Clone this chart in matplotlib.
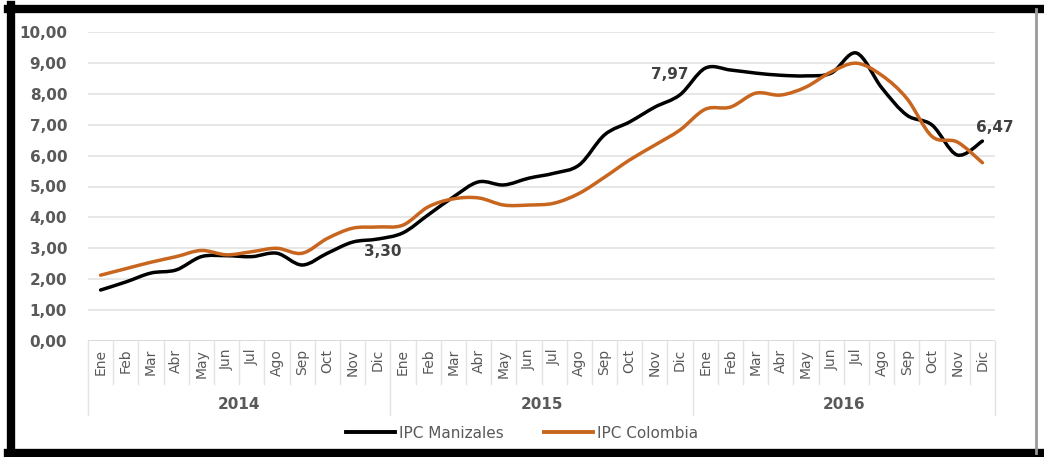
import numpy as np
import matplotlib.pyplot as plt
from matplotlib.path import Path
from matplotlib.patches import PathPatch
from matplotlib.lines import Line2D
from matplotlib.ticker import FuncFormatter

months = ['Ene', 'Feb', 'Mar', 'Abr', 'May', 'Jun',
          'Jul', 'Ago', 'Sep', 'Oct', 'Nov', 'Dic']
years = ['2014', '2015', '2016']

ipc_manizales = [1.65, 1.91, 2.20, 2.30, 2.73, 2.76, 2.73, 2.84, 2.46, 2.84, 3.20, 3.30,
                 3.50, 4.08, 4.66, 5.15, 5.05, 5.27, 5.43, 5.70, 6.67, 7.09, 7.57, 7.97,
                 8.83, 8.77, 8.67, 8.60, 8.58, 8.67, 9.32, 8.20, 7.31, 6.99, 6.02, 6.47]
ipc_colombia = [2.13, 2.34, 2.55, 2.73, 2.93, 2.79, 2.89, 3.00, 2.84, 3.32, 3.65, 3.69,
                3.75, 4.34, 4.60, 4.63, 4.40, 4.40, 4.46, 4.78, 5.30, 5.86, 6.34, 6.83,
                7.50, 7.57, 8.02, 7.96, 8.22, 8.71, 8.99, 8.60, 7.85, 6.62, 6.44, 5.77]

grey = '#595959'
orange = '#C8651E'


def smooth_path(y):
    # Excel style smoothed line: cubic bezier segments through every point
    x = np.arange(len(y), dtype=float)
    y = np.asarray(y, dtype=float)
    verts = [(x[0], y[0])]
    codes = [Path.MOVETO]
    n = len(y)
    for i in range(n - 1):
        x0, y0 = (x[i - 1], y[i - 1]) if i > 0 else (x[i], y[i])
        x3, y3 = (x[i + 2], y[i + 2]) if i + 2 < n else (x[i + 1], y[i + 1])
        c1 = (x[i] + (x[i + 1] - x0) / 6, y[i] + (y[i + 1] - y0) / 6)
        c2 = (x[i + 1] - (x3 - x[i]) / 6, y[i + 1] - (y3 - y[i]) / 6)
        verts += [c1, c2, (x[i + 1], y[i + 1])]
        codes += [Path.CURVE4, Path.CURVE4, Path.CURVE4]
    return Path(verts, codes)


fig = plt.figure(figsize=(10.44, 4.57), dpi=100)
ax = fig.add_axes([88 / 1044, 116 / 457, 907 / 1044, 309 / 457])

n = len(ipc_manizales)
ax.set_xlim(-0.5, n - 0.5)
ax.set_ylim(0, 10)
ax.set_yticks(np.arange(0, 11, 1))
ax.yaxis.set_major_formatter(FuncFormatter(lambda v, p: ('%.2f' % v).replace('.', ',')))
ax.tick_params(axis='y', length=0, pad=15, labelsize=11, labelcolor=grey)
for lab in ax.get_yticklabels():
    lab.set_fontweight('bold')
ax.set_xticks([])
ax.grid(axis='y', color='#e3e3e3', linewidth=1.2)
ax.set_axisbelow(True)
for s in ax.spines.values():
    s.set_visible(False)
ax.axhline(0, color='#d9d9d9', linewidth=1.2)

for data, col in [(ipc_manizales, 'black'), (ipc_colombia, orange)]:
    ax.add_patch(PathPatch(smooth_path(data), facecolor='none', edgecolor=col,
                           linewidth=2.5, capstyle='round', joinstyle='round'))

# data labels
ax.text(11.2, ipc_manizales[11] - 0.4, '3,30', ha='center', va='center',
        fontsize=11, fontweight='bold', color='#404040')
ax.text(22.6, ipc_manizales[23] + 0.65, '7,97', ha='center', va='center',
        fontsize=11, fontweight='bold', color='#404040')
ax.text(35.5, ipc_manizales[35] + 0.45, '6,47', ha='center', va='center',
        fontsize=11, fontweight='bold', color='#404040')

# category axis with month and year levels
trans = ax.get_xaxis_transform()
for i in range(n):
    ax.text(i, -0.025, months[i % 12], rotation=90, ha='center', va='top',
            fontsize=10, color=grey, transform=trans)
for i in range(n + 1):
    top = -0.24 if i % 12 == 0 else -0.14
    ax.plot([i - 0.5, i - 0.5], [0, top], color='#e3e3e3', linewidth=1.0,
            transform=trans, clip_on=False)
for k, yr in enumerate(years):
    ax.text(12 * k + 5.5, -0.205, yr, ha='center', va='center', fontsize=11,
            fontweight='bold', color=grey, transform=trans)

handles = [Line2D([], [], color='black', linewidth=2.8),
           Line2D([], [], color=orange, linewidth=2.8)]
fig.legend(handles, ['IPC Manizales', 'IPC Colombia'], loc='center',
           bbox_to_anchor=(0.5, 24 / 457), ncol=2, frameon=False, fontsize=11,
           handlelength=3.2, handletextpad=0.3, columnspacing=2.6, labelcolor=grey)

# outer frame
fig.add_artist(Line2D([11 / 1044, 11 / 1044], [0, 1 - 5 / 457], color='black',
                      linewidth=6, transform=fig.transFigure))
fig.add_artist(Line2D([8 / 1044, 1], [1 - 9 / 457, 1 - 9 / 457], color='black',
                      linewidth=6, transform=fig.transFigure))
fig.add_artist(Line2D([8 / 1044, 1], [4 / 457, 4 / 457], color='black',
                      linewidth=6, transform=fig.transFigure))
fig.add_artist(Line2D([1036 / 1044, 1036 / 1044], [4 / 457, 1 - 9 / 457], color='#9a9a9a',
                      linewidth=2, transform=fig.transFigure))

fig.savefig('out.png', dpi=100)
